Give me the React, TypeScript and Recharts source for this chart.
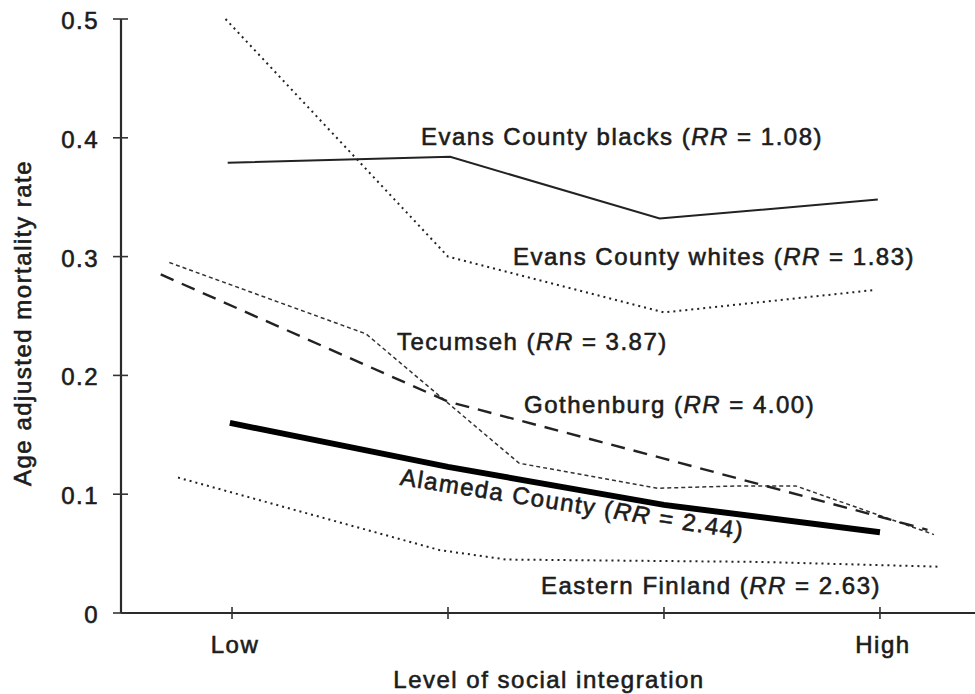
import React from 'react';
import { LineChart, Line, XAxis, YAxis } from 'recharts';

// level of social integration: 1 = Low ... 4 = High
const levelTicks = [1, 2, 3, 4];
const levelLabels = ['Low', '', '', 'High'];
const rateTicks = [0, 0.1, 0.2, 0.3, 0.4, 0.5];

const evansBlacks = [
  { x: 0.98, y: 0.379 },
  { x: 2.01, y: 0.384 },
  { x: 2.98, y: 0.332 },
  { x: 3.99, y: 0.348 }
];
const evansWhites = [
  { x: 0.97, y: 0.5 },
  { x: 2.0, y: 0.3 },
  { x: 3.0, y: 0.253 },
  { x: 3.98, y: 0.272 }
];
const tecumseh = [
  { x: 0.71, y: 0.295 },
  { x: 1.62, y: 0.235 },
  { x: 2.33, y: 0.126 },
  { x: 2.97, y: 0.105 },
  { x: 3.35, y: 0.107 },
  { x: 3.61, y: 0.107 },
  { x: 4.25, y: 0.066 }
];
const gothenburg = [
  { x: 0.67, y: 0.285 },
  { x: 2.0, y: 0.178 },
  { x: 3.0, y: 0.13 },
  { x: 4.0, y: 0.081 },
  { x: 4.22, y: 0.07 }
];
const alameda = [
  { x: 0.99, y: 0.16 },
  { x: 2.0, y: 0.123 },
  { x: 3.0, y: 0.091 },
  { x: 4.0, y: 0.068 }
];
const easternFinland = [
  { x: 0.75, y: 0.114 },
  { x: 1.96, y: 0.053 },
  { x: 2.27, y: 0.045 },
  { x: 3.44, y: 0.043 },
  { x: 4.27, y: 0.039 }
];

const studyNames = [
  'Evans County blacks',
  'Evans County whites',
  'Tecumseh',
  'Gothenburg',
  'Alameda County',
  'Eastern Finland'
];
const rrValues = ['1.08', '1.83', '3.87', '4.00', '2.44', '2.63'];

const FONT = '"Liberation Sans", Arial, Helvetica, sans-serif';
const INK = '#1c1c1c';
const textStyle = {
  fontFamily: FONT,
  fontSize: 24,
  letterSpacing: 1.5,
  fill: INK,
  stroke: INK,
  strokeWidth: 0.6
};

const YTick = ({ x, y, payload }: any) => (
  <g>
    <line x1={x - 8} x2={x + 7} y1={y} y2={y} stroke="#333" strokeWidth={1.6} />
    <text x={x - 22} y={y + 10} textAnchor="end" style={textStyle}>
      {payload.value === 0 ? '0' : payload.value.toFixed(1)}
    </text>
  </g>
);

const XTick = ({ x, y, payload }: any) => {
  const label = levelLabels[levelTicks.indexOf(payload.value)];
  return (
    <g>
      <line x1={x} x2={x} y1={y - 6} y2={y + 6} stroke="#333" strokeWidth={1.6} />
      <text x={x + 3} y={y + 40} textAnchor="middle" style={textStyle}>
        {label}
      </text>
    </g>
  );
};

const StudyLabel = ({ i, x, y, rotate = 0, anchor = 'start' }: any) => (
  <text
    x={x}
    y={y}
    textAnchor={anchor}
    transform={rotate ? `rotate(${rotate} ${x} ${y})` : undefined}
    style={textStyle}
  >
    {studyNames[i]} (<tspan fontStyle="italic">RR</tspan> = {rrValues[i]})
  </text>
);

const App = () => {
  return (
    <div style={{ position: 'absolute', left: 0, top: 0, width: 975, height: 694, background: '#fff' }}>
      <LineChart width={975} height={694} margin={{ top: 19, right: 0, bottom: 0, left: 0 }}>
        <XAxis
          type="number"
          dataKey="x"
          domain={[0.486, 4.44]}
          ticks={levelTicks}
          allowDataOverflow
          height={81}
          tickSize={0}
          tickMargin={0}
          tickLine={false}
          axisLine={{ stroke: '#2a2a2a', strokeWidth: 2.2 }}
          tick={<XTick />}
        />
        <YAxis
          type="number"
          dataKey="y"
          domain={[0, 0.5]}
          ticks={rateTicks}
          width={121}
          tickSize={0}
          tickMargin={0}
          tickLine={false}
          axisLine={{ stroke: '#2a2a2a', strokeWidth: 2.2 }}
          tick={<YTick />}
        />
        <Line data={evansBlacks} dataKey="y" type="linear" stroke="#222" strokeWidth={2} dot={false} isAnimationActive={false} />
        <Line data={evansWhites} dataKey="y" type="linear" stroke="#222" strokeWidth={2} strokeDasharray="2 4" dot={false} isAnimationActive={false} />
        <Line data={tecumseh} dataKey="y" type="linear" stroke="#333" strokeWidth={1.5} strokeDasharray="4 3" dot={false} isAnimationActive={false} />
        <Line data={gothenburg} dataKey="y" type="linear" stroke="#222" strokeWidth={2.4} strokeDasharray="14 9" dot={false} isAnimationActive={false} />
        <Line data={alameda} dataKey="y" type="linear" stroke="#000" strokeWidth={6} dot={false} isAnimationActive={false} />
        <Line data={easternFinland} dataKey="y" type="linear" stroke="#222" strokeWidth={2} strokeDasharray="2 4" dot={false} isAnimationActive={false} />
      </LineChart>
      <svg width={975} height={694} style={{ position: 'absolute', left: 0, top: 0, pointerEvents: 'none' }}>
        <StudyLabel i={0} x={421} y={145} />
        <StudyLabel i={1} x={513} y={265} />
        <StudyLabel i={2} x={397} y={350} />
        <StudyLabel i={3} x={524} y={413} />
        <StudyLabel i={4} x={571} y={512} rotate={9} anchor="middle" />
        <StudyLabel i={5} x={541} y={594} />
        <text x={549} y={688} textAnchor="middle" style={textStyle}>
          Level of social integration
        </text>
        <text x={31} y={323} textAnchor="middle" transform="rotate(-90 31 323)" style={textStyle}>
          Age adjusted mortality rate
        </text>
      </svg>
    </div>
  );
};

export default App;
